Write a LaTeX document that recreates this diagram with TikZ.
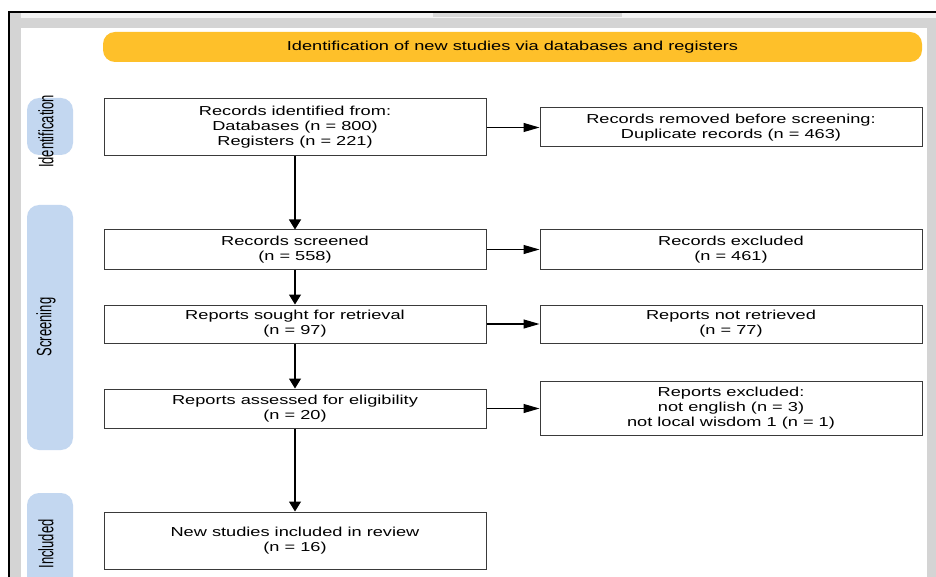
\documentclass[tikz,border=0pt]{standalone}
\usepackage{fontspec}
\setmainfont{Liberation Sans}[FakeStretch=1.4]
\newfontfamily\sidefont{Liberation Sans}
\usepackage{xcolor}
\usepackage{tikz}
\usetikzlibrary{positioning, arrows.meta}
\definecolor{bandyellow}{HTML}{FEC02A}
\definecolor{phaseblue}{HTML}{C3D7F0}
\definecolor{framegray}{HTML}{D4D4D4}
\definecolor{stripgray}{HTML}{F3F3F3}
\definecolor{tabgray}{HTML}{D9D9D9}
\definecolor{boxline}{HTML}{3A3A3A}

\tikzset{
  flowbox/.style={draw=boxline, line width=1pt, fill=white, minimum width=382pt,
                  inner sep=0pt, align=center, font=\fontsize{13}{15}\selectfont},
  phasepill/.style={fill=phaseblue, rounded corners=12pt},
  downarrow/.style={-{Triangle[length=10pt,width=12pt]}, line width=1.2pt},
  sidearrow/.style={-{Triangle[length=16pt,width=9pt]}, line width=1.1pt},
}
\newcommand{\phasetext}[1]{\rotatebox{90}{\scalebox{1}[1.6]{\sidefont\fontsize{13}{15}\selectfont #1}}}

\begin{document}
\begin{tikzpicture}[x=1pt, y=-1pt]
    \useasboundingbox (0,0) rectangle (936,577);
    % window frame
    \fill[white] (0,0) rectangle (936,577);
    \fill[framegray] (9,13) rectangle (936,577);
    \fill[stripgray] (21,13) rectangle (936,18);
    \fill[tabgray] (433,13) rectangle (622,17);
    \fill[white] (21,28) rectangle (927,577);
    \draw[line width=1.8pt] (9,577) -- (9,12) -- (936,12);

    % header band
    \node[fill=bandyellow, rounded corners=12pt, minimum width=819pt, minimum height=30pt,
          inner sep=0pt, font=\fontsize{13}{15}\selectfont] (header) at (512.5,47)
          {Identification of new studies via databases and registers};

    % phase pills
    \fill[phasepill] (27,98) rectangle (73,155);
    \fill[phasepill] (27,205) rectangle (73,450);
    \fill[phasepill] (27,493) rectangle (73,600);
    \node[inner sep=0pt] (idlabel) at (46,131.5) {\phasetext{Identification}};
    \node[inner sep=0pt] (screenlabel) at (46,327) {\phasetext{Screening}};
    \node[inner sep=0pt] (inclabel) at (46,544) {\phasetext{Included}};

    % main column
    \node[flowbox, minimum height=57pt] (identified) at (295,127.5)
      {Records identified from:\\Databases (n = 800)\\Registers (n = 221)};
    \node[flowbox, minimum height=39pt] (screened) at (295,249.5)
      {Records screened\\(n = 558)};
    \node[flowbox, minimum height=38pt] (sought) at (295,324)
      {Reports sought for retrieval\\(n = 97)};
    \node[flowbox, minimum height=39pt] (assessed) at (295,408.5)
      {Reports assessed for eligibility\\(n = 20)};
    \node[flowbox, minimum height=57pt] (included) at (295,540.5)
      {New studies included in review\\(n = 16)};

    % side column
    \node[flowbox, minimum height=39pt] (removed) at (731,127.5)
      {Records removed before screening:\\Duplicate records (n = 463)};
    \node[flowbox, minimum height=39pt] (excluded) at (731,249.5)
      {Records excluded\\(n = 461)};
    \node[flowbox, minimum height=38pt] (notretrieved) at (731,324)
      {Reports not retrieved\\(n = 77)};
    \node[flowbox, minimum height=54pt] (reportsexcl) at (731,408.5)
      {Reports excluded:\\not english (n = 3)\\not local wisdom 1 (n = 1)};

    % connectors
    \draw[downarrow] (identified) -- (screened);
    \draw[downarrow] (screened) -- (sought);
    \draw[downarrow] (sought) -- (assessed);
    \draw[downarrow] (assessed) -- (included);
    \draw[sidearrow] (identified) -- (removed);
    \draw[sidearrow] (screened) -- (excluded);
    \draw[sidearrow] (sought) -- (notretrieved);
    \draw[sidearrow] (assessed) -- (reportsexcl);
  \end{tikzpicture}
\end{document}
